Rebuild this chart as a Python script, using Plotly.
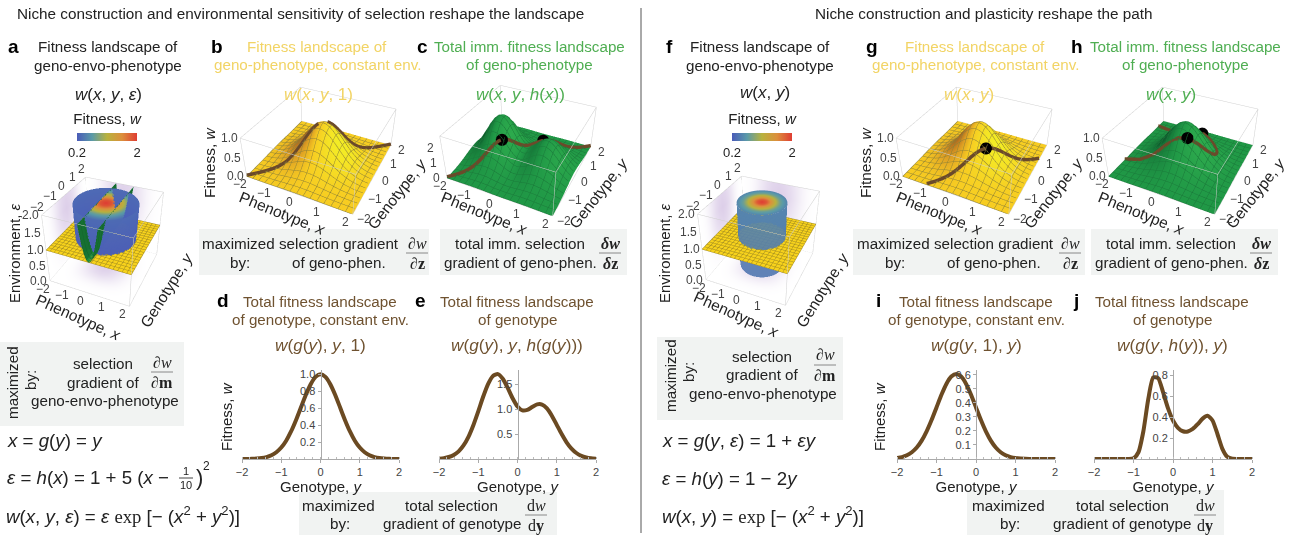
import math
import numpy as np
import plotly.graph_objects as go

W, H = 1291, 535
FONT = "Liberation Sans"
SERIF = "Liberation Serif"
GOLD = "#f2d465"
GREEN = "#4fae52"
BROWN = "#6f5230"
INK = "#222222"
TICK = "#444444"

# ---------- data ----------
grid = [-2, -1.875, -1.75, -1.625, -1.5, -1.375, -1.25, -1.125, -1, -0.875, -0.75, -0.625, -0.5, -0.375, -0.25, -0.125, 0,
        0.125, 0.25, 0.375, 0.5, 0.625, 0.75, 0.875, 1, 1.125, 1.25, 1.375, 1.5, 1.625, 1.75, 1.875, 2]
bell = [.018, .030, .047, .071, .105, .151, .210, .282, .368, .465, .570, .677, .779, .869, .939, .985, 1,
        .985, .939, .869, .779, .677, .570, .465, .368, .282, .210, .151, .105, .071, .047, .030, .018]
imm_ridge = [.422, .609, .848, 1.132, 1.454, 1.794, 2.120, 2.398, 2.594, 2.675, 2.628, 2.455, 2.181, 1.849, 1.515, 1.234, 1.05,
             .987, 1.045, 1.197, 1.402, 1.609, 1.774, 1.861, 1.858, 1.763, 1.596, 1.378, 1.138, .900, .684, .497, .349]
curve_d = [.0003, .001, .002, .005, .011, .023, .044, .080, .135, .216, .325, .458, .607, .755, .882, .969, 1,
           .969, .882, .755, .607, .458, .325, .216, .135, .080, .044, .023, .011, .005, .002, .001, .0003]
curve_e = [.006, .018, .040, .081, .153, .271, .444, .677, .954, 1.244, 1.498, 1.661, 1.698, 1.606, 1.423, 1.214, 1.05,
           .972, .982, 1.040, 1.092, 1.089, 1.011, .866, .683, .498, .334, .208, .120, .064, .032, .015, .006]
curve_i = [.0067, .0138, .0266, .0483, .0821, .1312, .1969, .2777, .3679, .4578, .5353, .5879, .6065, .5879, .5353, .4578, .3679,
           .2777, .1969, .1312, .0821, .0483, .0266, .0138, .0067, .0031, .0013, .0005, .0002, 0, 0, 0, 0]
curve_j = [0, 0, 0, 0, 0, 0, 0, .0002, .0067, .0644, .265, .574, .779, .772, .636, .483, .368,
           .298, .265, .263, .287, .332, .386, .413, .368, .239, .0975, .0209, .0019, .0001, 0, 0, 0]
path_b_x = grid
path_c_x = grid
path_g_y = grid[:25]
path_g_x = grid[8:]
path_g_z = curve_i[:25]
path_h_y = grid[8:29]
path_h_x = [-2, -1.406, -.875, -.406, 0, .344, .625, .844, 1, 1.094, 1.125, 1.094, 1, .844, .625, .344, 0, -.406, -.875, -1.406, -2]
path_h_z = curve_j[8:29]
dots_b = ([0], [0], [1.0])
dots_c = ([-.55, .55], [-.55, .55], [1.70, 1.09])
dots_g = ([.5], [-.5], [.607])
dots_h = ([.28, .28], [-.4, .9], [.788, .41])
green_x = [-.35, -.3, -.2, -.1, 0, .1, .2, .3, .4, .5, .55]
green_eps = [2.0, 1.8, 1.45, 1.2, 1.05, 1, 1.05, 1.2, 1.45, 1.8, 2.0]
disc_r_a = [0.001, .25, .5, .75, 1, 1.45]
disc_w_a = [2, 1.88, 1.56, 1.14, .74, .31]
disc_r_f = [0.001, .2, .4, .6, .8, 1.1]
disc_w_f = [2, 1.85, 1.5, 1.1, .75, .5]
side_z_a = [1, 1.25, 1.5, 1.75, 2]
side_w_a = [.22, .24, .26, .28, .31]
side_r_a = [1.40, 1.42, 1.43, 1.44, 1.45]
side_z_f = [.1, .5, 1, 1.5, 2]
side_w_f = [.40, .42, .45, .48, .5]
side_r_f = [1.05, 1.1, 1.1, 1.1, 1.1]
haze = [0, .03, .1, .25, .5, .75, .92, 1, .92, .75, .5, .25, .1, .03, 0]
haze_pos = [-2, -1.7, -1.45, -1.2, -.9, -.6, -.3, 0, .3, .6, .9, 1.2, 1.45, 1.7, 2]
haze_z = [0, .4, .8, 1.2, 1.6, 2]
haze_zv = [.05, .25, .6, .85, 1, .9]
fit_scale = [[0, "#4a5bb8"], [.25, "#5a9aa8"], [.5, "#b8b23e"], [.75, "#dc8f3c"], [1, "#df3d33"]]
gold_scale = [[0, "#f0ea22"], [.5, "#f3c81e"], [.75, "#d99a20"], [1, "#a8601e"]]
green_scale = [[0, "#2aa84a"], [.5, "#1c9442"], [.8, "#147a38"], [1, "#0c4f28"]]
xy_ticks = [-2, -1, 0, 1, 2]

fig = go.Figure()
annotations, shapes = [], []
layout_scenes = {}


def px(x, y):
    return x / W, 1 - y / H


def text(x, y, s, size=15.2, color=INK, angle=0, anchor="center", family=FONT):
    ax, ay = px(x, y)
    annotations.append(dict(xref="paper", yref="paper", x=ax, y=ay, text=s, showarrow=False, textangle=angle,
                            xanchor=anchor, yanchor="middle", font=dict(size=size, color=color, family=family)))


def hline(x0, x1, y, color="#888888", width=1):
    a, b = px(x0, y), px(x1, y)
    shapes.append(dict(type="line", xref="paper", yref="paper", x0=a[0], x1=b[0], y0=a[1], y1=b[1],
                       line=dict(color=color, width=width)))


def box(x0, y0, x1, y1):
    a, b = px(x0, y0), px(x1, y1)
    shapes.append(dict(type="rect", xref="paper", yref="paper", x0=a[0], x1=b[0], y0=a[1], y1=b[1],
                       fillcolor="#f1f3f2", line=dict(width=0), layer="below"))


def flat(color):
    return [[0, color], [1, color]]


FLAT_LIGHT = dict(ambient=1, diffuse=0, specular=0, fresnel=0)
MESH_LIGHT = dict(ambient=.8, diffuse=.35, specular=.03, roughness=.8, fresnel=.02)


def mesh(color, step):
    c = dict(show=True, start=-2, end=2, size=step, color=color, width=1, highlight=False)
    return dict(x=c, y=c, z=dict(show=False, highlight=False))


def scene(idx, cx, cy, size, zmax, zasp, zticks, ytop=False, dist=3.07, az=26, el=36):
    sid = "scene" if idx == 1 else f"scene{idx}"
    half_w = min(size / 2, cx, W - cx)
    half_h = min(size / 2, cy, H - cy)
    a, b = px(cx - half_w, cy + half_h), px(cx + half_w, cy - half_h)
    ax_off = dict(visible=False)
    t, e = math.radians(az), math.radians(el)
    ann = []
    lab = dict(showarrow=False, font=dict(size=12, color=TICK, family=FONT))
    for v in xy_ticks:
        ann.append(dict(x=v, y=-2, z=0, text=f"{v}".replace("-", "−"), xshift=-7, yshift=-8, **lab))
        if ytop:
            ann.append(dict(x=-2, y=v, z=zmax, text=f"{v}".replace("-", "−"), xshift=-4, yshift=8, **lab))
        else:
            ann.append(dict(x=2, y=v, z=0, text=f"{v}".replace("-", "−"), xshift=11, yshift=-5, **lab))
    for v, s in zticks:
        ann.append(dict(x=-2, y=-2, z=v, text=s, xshift=-11, yshift=0, **lab))
    layout_scenes[sid] = dict(
        domain=dict(x=[max(a[0], 0), min(b[0], 1)], y=[max(a[1], 0), min(b[1], 1)]),
        xaxis=dict(ax_off, range=[-2, 2]), yaxis=dict(ax_off, range=[-2, 2]), zaxis=dict(ax_off, range=[0, zmax]),
        aspectmode="manual", aspectratio=dict(x=1, y=1, z=zasp), bgcolor="rgba(0,0,0,0)",
        camera=dict(eye=dict(x=dist * math.sin(t) * math.cos(e), y=-dist * math.cos(t) * math.cos(e), z=dist * math.sin(e)),
                    center=dict(x=0, y=0, z=0), up=dict(x=0, y=0, z=1)),
        annotations=ann)
    # frame of the axis box, taken from the axis ranges
    lo, hi = -2, 2
    xs, ys, zs = [], [], []
    for p, q in [((lo, lo), (hi, lo)), ((hi, lo), (hi, hi)), ((hi, hi), (lo, hi)), ((lo, hi), (lo, lo))]:
        xs += [p[0], q[0], None, p[0], q[0], None, p[0], p[0], None]
        ys += [p[1], q[1], None, p[1], q[1], None, p[1], p[1], None]
        zs += [0, 0, None, zmax, zmax, None, 0, zmax, None]
    fig.add_trace(go.Scatter3d(x=xs, y=ys, z=zs, mode="lines", line=dict(color="#d0d0d0", width=1), scene=sid,
                               hoverinfo="skip", showlegend=False))
    return sid


def landscape(sid, z, scale, line, path, dots, dot_size, lift):
    slope = np.gradient(np.asarray(z), axis=1) / .125
    top = float(np.abs(slope).max())
    fig.add_trace(go.Surface(x=grid, y=grid, z=z, surfacecolor=slope, cmin=-top, cmax=top, scene=sid, colorscale=scale,
                             showscale=False, hoverinfo="skip", lighting=MESH_LIGHT,
                             lightposition=dict(x=60000, y=20000, z=50000), contours=mesh(line, .25)))
    fig.add_trace(go.Scatter3d(x=path[0], y=path[1], z=[v + lift for v in path[2]], mode="lines", scene=sid,
                               line=dict(color="#6b4a2a", width=7), hoverinfo="skip", showlegend=False))
    fig.add_trace(go.Scatter3d(x=dots[0], y=dots[1], z=[v + lift for v in dots[2]], mode="markers", scene=sid,
                               marker=dict(color="black", size=dot_size, line=dict(width=0)), hoverinfo="skip",
                               showlegend=False))


def env_panel(sid, cname, disc_r, disc_w, side_z, side_r, side_w, disc_op, opacity, green):
    hz = np.array(haze)
    hzz = np.array(haze_zv)
    purple = [[0, "rgba(255,255,255,1)"], [1, "#ddcfe9"]]
    pos = np.array(haze_pos)
    for which in ("x", "y"):
        zz = np.outer(np.array(haze_z), np.ones(len(pos)))
        yy = np.outer(np.ones(len(haze_z)), pos)
        sc = np.outer(hzz, hz)
        if which == "x":
            xv, yv = -2 * np.ones_like(yy), yy
        else:
            xv, yv = yy, 2 * np.ones_like(yy)
        fig.add_trace(go.Surface(x=xv, y=yv, z=zz, surfacecolor=sc, colorscale=purple, cmin=0, cmax=1, showscale=False,
                                 scene=sid, hoverinfo="skip", lighting=FLAT_LIGHT))
    fig.add_trace(go.Surface(x=pos, y=pos, z=np.zeros((len(pos), len(pos))), surfacecolor=np.outer(hz, hz),
                             colorscale=purple, cmin=0, cmax=1, showscale=False, scene=sid, hoverinfo="skip",
                             lighting=FLAT_LIGHT))
    if green:
        fig.add_trace(go.Surface(x=green_x, y=grid[::2], z=np.outer(np.ones(17), np.array(green_eps)),
                                 colorscale=flat("#1c8c3e"), showscale=False, scene=sid, hoverinfo="skip",
                                 lighting=MESH_LIGHT, contours=dict(x=dict(show=False), y=dict(show=True, start=-2, end=2, size=.25, color="#14632c", width=1),
                                                                    z=dict(show=False))))
    theta = np.radians(np.arange(0, 361, 6))
    rr, tt = np.array(disc_r), theta
    fig.add_trace(go.Surface(x=np.outer(rr, np.cos(tt)), y=np.outer(rr, np.sin(tt)), z=2 * np.ones((len(rr), len(tt))),
                             surfacecolor=np.outer(np.array(disc_w), np.ones(len(tt))), coloraxis=cname, scene=sid,
                             hoverinfo="skip", lighting=FLAT_LIGHT, opacity=disc_op))
    sr = np.array(side_r)
    fig.add_trace(go.Surface(x=np.outer(sr, np.cos(tt)), y=np.outer(sr, np.sin(tt)),
                             z=np.outer(np.array(side_z), np.ones(len(tt))),
                             surfacecolor=np.outer(np.array(side_w), np.ones(len(tt))), coloraxis=cname, scene=sid,
                             hoverinfo="skip", opacity=opacity, lighting=FLAT_LIGHT))
    fig.add_trace(go.Surface(x=grid[::2], y=grid[::2], z=np.ones((17, 17)), colorscale=flat("#f7d21c"), showscale=False,
                             scene=sid, hoverinfo="skip", lighting=FLAT_LIGHT, contours=mesh("#a08a20", .2)))


# ---------- surfaces ----------
bell_a = np.array(bell)
z_b = np.outer(bell_a, bell_a)
z_c = np.outer(bell_a, np.array(imm_ridge))

z05 = [(0, "0.0"), (.5, "0.5"), (1, "1.0")]
env_ticks = [(0, "0.0"), (.5, "0.5"), (1, "1.0"), (1.5, "1.5"), (2, "2.0")]

s1 = scene(1, 106, 237, 278, 2, .9, env_ticks, ytop=True, az=24, el=35, dist=3.9)
env_panel(s1, "coloraxis", disc_r_a, disc_w_a, side_z_a, side_r_a, side_w_a, .99, .99, True)
s2 = scene(2, 323, 142, 284, 1, .41, z05)
landscape(s2, z_b, gold_scale, "#8f8236", (path_b_x, path_b_x, curve_d), dots_b, 7, .03)
s3 = scene(3, 523, 142, 284, 2.7, .45, [(0, "0"), (1, "1"), (2, "2")])
landscape(s3, z_c, green_scale, "#1a7a3a", (path_c_x, path_c_x, curve_e), dots_c, 7, .08)
s4 = scene(4, 762, 236, 278, 2, .9, env_ticks, ytop=True, az=24, el=35, dist=3.9)
env_panel(s4, "coloraxis2", disc_r_f, disc_w_f, side_z_f, side_r_f, side_w_f, 1, .9, False)
s5 = scene(5, 979, 142, 284, 1, .41, z05)
landscape(s5, z_b, gold_scale, "#8f8236", (path_g_x, path_g_y, path_g_z), dots_g, 7, .03)
s6 = scene(6, 1185, 142, 284, 1, .41, z05)
landscape(s6, z_b, green_scale, "#1a7a3a", (path_h_x, path_h_y, path_h_z), dots_h, 7, .03)

# ---------- 2D panels ----------
panels = [
    (242, 399, 370, 1.05, curve_d, [.2, .4, .6, .8, 1.0]),
    (439, 596, 370, 1.78, curve_e, [.5, 1.0, 1.5]),
    (897, 1055, 370, .635, curve_i, [.1, .2, .3, .4, .5, .6]),
    (1094, 1252, 370, .85, curve_j, [.2, .4, .6, .8]),
]
axes = {}
for n, (x0, x1, top, ymax, vals, yt) in enumerate(panels):
    i = n + 1
    xn, yn = f"x{'' if i == 1 else i}", f"y{'' if i == 1 else i}"
    fig.add_trace(go.Scatter(x=grid, y=vals, mode="lines", line=dict(color="#6b4a22", width=4, shape="spline", smoothing=.6),
                             xaxis=xn, yaxis=yn, hoverinfo="skip", showlegend=False, cliponaxis=False))
    dx = [x0 / W, x1 / W]
    dy = [1 - 459 / H, 1 - top / H]
    axes[f"xaxis{'' if i == 1 else i}"] = dict(
        domain=dx, range=[-2, 2], anchor=yn, tickvals=xy_ticks, ticks="outside", ticklen=3, tickcolor="#aaaaaa", showgrid=False,
        zeroline=False, showline=True, linecolor="#aaaaaa", linewidth=1,
        tickfont=dict(size=11, color=TICK, family=FONT),
        title=dict(text="Genotype, <i>y</i>", font=dict(size=15, color=INK, family=FONT), standoff=1),
        minor=dict(ticks="inside", dtick=.2, ticklen=2, tickcolor="#bbbbbb"))
    axes[f"yaxis{'' if i == 1 else i}"] = dict(
        domain=dy, range=[0, ymax], anchor="free", position=(x0 + x1) / 2 / W, tickvals=yt,
        tickformat=".1f", ticks="outside", ticklen=3, tickcolor="#aaaaaa", showgrid=False, zeroline=False, showline=True,
        linecolor="#aaaaaa", linewidth=1, tickfont=dict(size=11, color=TICK, family=FONT))

# ---------- boxes ----------
for b in [(0, 342, 184, 426), (199, 229, 429, 275), (440, 229, 627, 275), (299, 492, 557, 535),
          (657, 337, 843, 420), (853, 229, 1085, 275), (1091, 229, 1278, 275), (967, 490, 1224, 535)]:
    box(*b)

# divider
a_, b_ = px(641, 8), px(641, 533)
shapes.append(dict(type="line", xref="paper", yref="paper", x0=a_[0], x1=b_[0], y0=a_[1], y1=b_[1], line=dict(color="#555555", width=1)))

# ---------- texts ----------
text(300, 14, "Niche construction and environmental sensitivity of selection reshape the landscape", 15.3)
text(984, 14, "Niche construction and plasticity reshape the path", 15.3)
for s, x, y in [("a", 13, 46), ("b", 217, 46), ("c", 422, 46), ("d", 223, 300), ("e", 420, 300), ("f", 669, 46),
                ("g", 872, 46), ("h", 1077, 46), ("i", 878, 300), ("j", 1076, 300)]:
    text(x, y, f"<b>{s}</b>", 19, "black")

text(108, 46, "Fitness landscape of"); text(108, 65, "geno-envo-phenotype")
text(108, 94, "<i>w</i>(<i>x</i>, <i>y</i>, <i>ε</i>)", 17)
text(760, 46, "Fitness landscape of"); text(760, 65, "geno-envo-phenotype")
text(765, 93, "<i>w</i>(<i>x</i>, <i>y</i>)", 17)
for cx, color, l1, l2, f, fx in [
    (317, GOLD, "Fitness landscape of", "geno-phenotype, constant env.", "<i>w</i>(<i>x</i>, <i>y</i>, 1)", 318),
    (529, GREEN, "Total imm. fitness landscape", "of geno-phenotype", "<i>w</i>(<i>x</i>, <i>y</i>, <i>h</i>(<i>x</i>))", 520),
    (975, GOLD, "Fitness landscape of", "geno-phenotype, constant env.", "<i>w</i>(<i>x</i>, <i>y</i>)", 969),
    (1185, GREEN, "Total imm. fitness landscape", "of geno-phenotype", "<i>w</i>(<i>x</i>, <i>y</i>)", 1171)]:
    text(cx, 46, l1, 15.2, color); text(cx, 64.5, l2, 15.2, color); text(fx, 94, f, 17, color)
for cx, l1, l2, f in [
    (320, "Total fitness landscape", "of genotype, constant env.", "<i>w</i>(<i>g</i>(<i>y</i>), <i>y</i>, 1)"),
    (517, "Total fitness landscape", "of genotype", "<i>w</i>(<i>g</i>(<i>y</i>), <i>y</i>, <i>h</i>(<i>g</i>(<i>y</i>)))"),
    (976, "Total fitness landscape", "of genotype, constant env.", "<i>w</i>(<i>g</i>(<i>y</i>, 1), <i>y</i>)"),
    (1172, "Total fitness landscape", "of genotype", "<i>w</i>(<i>g</i>(<i>y</i>, <i>h</i>(<i>y</i>)), <i>y</i>)")]:
    text(cx, 301, l1, 15.2, BROWN); text(cx, 319, l2, 15.2, BROWN); text(cx, 345, f, 17.2, BROWN)

text(226, 416, "Fitness, <i>w</i>", 15, angle=-90)
text(879, 416, "Fitness, <i>w</i>", 15, angle=-90)

phen, gen = "Phenotype, <i>x</i>", "Genotype, <i>y</i>"
for x, y in [(79, 317), (737, 314)]:
    text(x, y, phen, 15.5, angle=24)
for x, y in [(166, 290), (822, 290)]:
    text(x, y, gen, 15.5, angle=-58)
text(14, 253, "Environment, <i>ε</i>", 15, angle=-90); text(664, 253, "Environment, <i>ε</i>", 15, angle=-90)
for x in (209, 865):
    text(x, 162, "Fitness, <i>w</i>", 15.5, angle=-90)
for x in (283, 485, 940, 1142):
    text(x, 213, phen, 15.5, angle=22)
for x in (397, 598, 1053, 1255):
    text(x, 193, gen, 15.5, angle=-52)


def frac(x, y_top, y_line, y_bot, top, bot, half=11):
    text(x, y_top, top, 16, family=SERIF)
    hline(x - half, x + half, y_line)
    text(x, y_bot, bot, 16, family=SERIF)


P_W, P_M, P_Z = "∂<i>w</i>", "∂<b>m</b>", "∂<b>z</b>"
D_W, D_Z = "<b><i>δw</i></b>", "<b><i>δ</i>z</b>"
T_W, T_Y = "d<i>w</i>", "d<b>y</b>"

text(12, 383, "maximized", 15.2, angle=-90); text(30, 380, "by:", 15.2, angle=-90)
text(103, 363, "selection"); text(103, 382, "gradient of"); text(105, 400, "geno-envo-phenotype")
frac(162, 362, 372, 382, P_W, P_M)
text(670, 376, "maximized", 15.2, angle=-90); text(688, 372, "by:", 15.2, angle=-90)
text(762, 356, "selection"); text(762, 374, "gradient of"); text(763, 393, "geno-envo-phenotype")
frac(825, 354, 365, 375, P_W, P_M)
for mx, c, d in [(238, 339, 417), (893, 994, 1070)]:
    text(mx, 243, "maximized"); text(mx + 2, 262, "by:")
    text(c, 243, "selection gradient"); text(c, 262, "of geno-phen.")
    frac(d, 243, 253, 264, P_W, P_Z)
for c, d in [(520, 610), (1171, 1261)]:
    text(c, 243, "total imm. selection"); text(c, 262, "gradient of geno-phen.")
    frac(d, 243, 253, 264, D_W, D_Z)
for mx, c, d in [(338, 452, 536), (1008, 1122, 1205)]:
    text(mx, 505, "maximized"); text(mx + 2, 523, "by:")
    text(c, 505, "total selection"); text(c, 523, "gradient of genotype")
    frac(d, 505, 515, 526, T_W, T_Y)

SP = f'<span style="font-family:{SERIF}">'
FS = 18.7
text(5, 440, "<i>x</i> = <i>g</i>(<i>y</i>) = <i>y</i>", FS, anchor="left")
text(5, 477, "<i>ε</i> = <i>h</i>(<i>x</i>) = 1 + 5 (<i>x</i> − ", FS, anchor="left")
text(186, 471, "1", 11); hline(179, 193, 478, "#444444"); text(186, 485, "10", 11)
text(199, 477, ")", 22); text(207, 466, "2", 12)
text(4, 515, f"<i>w</i>(<i>x</i>, <i>y</i>, <i>ε</i>) = <i>ε</i> {SP}exp</span> [− (<i>x</i><sup>2</sup> + <i>y</i><sup>2</sup>)]", FS, anchor="left")
text(660, 440, "<i>x</i> = <i>g</i>(<i>y</i>, <i>ε</i>) = 1 + <i>εy</i>", FS, anchor="left")
text(660, 478, "<i>ε</i> = <i>h</i>(<i>y</i>) = 1 − 2<i>y</i>", FS, anchor="left")
text(660, 515, f"<i>w</i>(<i>x</i>, <i>y</i>) = {SP}exp</span> [− (<i>x</i><sup>2</sup> + <i>y</i><sup>2</sup>)]", FS, anchor="left")


def cbar(cx):
    return dict(orientation="h", x=cx / W, xanchor="center", y=1 - 116 / H, yanchor="top", thickness=8, thicknessmode="pixels",
                len=60, lenmode="pixels", tickvals=[.2, 2], ticktext=["0.2", "2"], ticks="", outlinewidth=0, ypad=0, xpad=0,
                tickfont=dict(size=13, color=INK, family=FONT),
                title=dict(text="Fitness, <i>w</i>", side="top", font=dict(size=15, color=INK, family=FONT)))


fig.update_layout(
    width=W, height=H, autosize=False, margin=dict(l=0, r=0, t=0, b=0, autoexpand=False), paper_bgcolor="white",
    plot_bgcolor="rgba(0,0,0,0)", font=dict(family=FONT), showlegend=False, annotations=annotations, shapes=shapes,
    coloraxis=dict(colorscale=fit_scale, cmin=.2, cmax=2, colorbar=cbar(107)),
    coloraxis2=dict(colorscale=fit_scale, cmin=.2, cmax=2, colorbar=cbar(762)),
    **layout_scenes, **axes)
fig.write_html("out.html", config=dict(displayModeBar=False),
               post_script="document.body.style.margin='0';")
